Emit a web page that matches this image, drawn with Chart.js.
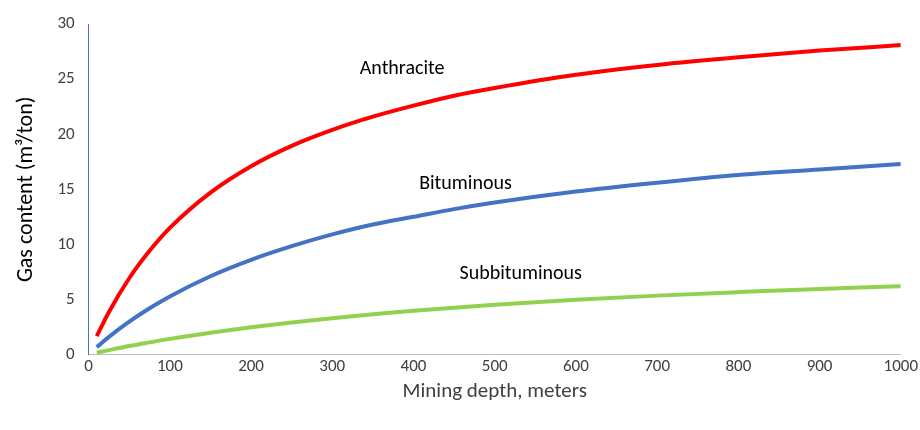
<!DOCTYPE html>
<html>
<head>
<meta charset="utf-8">
<script src="https://cdn.jsdelivr.net/npm/chart.js@4/dist/chart.umd.min.js"></script>
<style>
  html, body { margin: 0; background: #fff; }
  #wrap { width: 920px; height: 430px; }
</style>
</head>
<body>
<div id="wrap"><canvas id="c"></canvas></div>
<script>
// depth in meters
const depths = [10, 25, 50, 75, 100, 150, 200, 250, 300, 350, 400, 450, 500, 600, 700, 800, 900, 1000];
const anthracite = [1.66, 3.86, 6.92, 9.41, 11.5, 14.7, 17.1, 18.95, 20.4, 21.6, 22.6, 23.5, 24.2, 25.4, 26.3, 27.0, 27.6, 28.1];
const bituminous = [0.66, 1.59, 2.97, 4.19, 5.27, 7.1, 8.59, 9.83, 10.9, 11.8, 12.5, 13.2, 13.8, 14.8, 15.6, 16.3, 16.8, 17.3];
const subbituminous = [0.16, 0.39, 0.76, 1.09, 1.41, 1.97, 2.47, 2.9, 3.29, 3.64, 3.96, 4.24, 4.5, 4.96, 5.34, 5.66, 5.95, 6.2];
const xTicks = [0, 100, 200, 300, 400, 500, 600, 700, 800, 900, 1000];
const yTicks = [0, 5, 10, 15, 20, 25, 30];

// curve names drawn inside the plot, at data coordinates
const curveLabels = [
  { text: 'Anthracite', x: 386, y: 25.9 },
  { text: 'Bituminous', x: 464, y: 15.5 },
  { text: 'Subbituminous', x: 532, y: 7.3 },
];

const FONT = 'Carlito, Lato, "Open Sans", sans-serif';
const toPoints = vals => depths.map((d, i) => ({ x: d, y: vals[i] }));

const labelPlugin = {
  id: 'curveLabels',
  afterDatasetsDraw(chart) {
    const { ctx, scales } = chart;
    ctx.save();
    ctx.font = '20px ' + FONT;
    ctx.fillStyle = '#000';
    ctx.textAlign = 'center';
    ctx.textBaseline = 'middle';
    curveLabels.forEach(l => {
      ctx.fillText(l.text, scales.x.getPixelForValue(l.x), scales.y.getPixelForValue(l.y));
    });
    ctx.restore();
  }
};

const line = (label, vals, color) => ({
  label,
  data: toPoints(vals),
  borderColor: color,
  borderWidth: 4,
  pointRadius: 0,
  showLine: true,
  cubicInterpolationMode: 'monotone',
  fill: false,
});

new Chart(document.getElementById('c'), {
  type: 'scatter',
  data: {
    datasets: [
      line('Anthracite', anthracite, '#ff0000'),
      line('Bituminous', bituminous, '#4472c4'),
      line('Subbituminous', subbituminous, '#92d050'),
    ]
  },
  options: {
    responsive: true,
    maintainAspectRatio: false,
    animation: false,
    layout: { padding: { top: 3, right: 18, left: 9, bottom: 26 } },
    plugins: { legend: { display: false }, tooltip: { enabled: false } },
    scales: {
      x: {
        type: 'linear',
        min: 0, max: 1000,
        afterBuildTicks: axis => { axis.ticks = xTicks.map(v => ({ value: v })); },
        grid: { display: false, drawTicks: false },
        border: { color: '#bfbfbf', width: 1 },
        ticks: { color: '#404040', font: { size: 17, family: FONT }, padding: 2,
                 callback: v => String(v) },
        title: { display: true, text: 'Mining depth, meters', color: '#404040',
                 font: { size: 21, family: FONT }, padding: { top: 0, bottom: 0 } }
      },
      y: {
        min: 0, max: 30,
        afterBuildTicks: axis => { axis.ticks = yTicks.map(v => ({ value: v })); },
        grid: { display: false, drawTicks: false },
        border: { color: '#4472c4', width: 1 },
        ticks: { color: '#404040', font: { size: 17, family: FONT }, padding: 14 },
        title: { display: true, text: 'Gas content (m³/ton)', color: '#000',
                 font: { size: 22, family: FONT } }
      }
    }
  },
  plugins: [labelPlugin]
});
</script>
</body>
</html>
